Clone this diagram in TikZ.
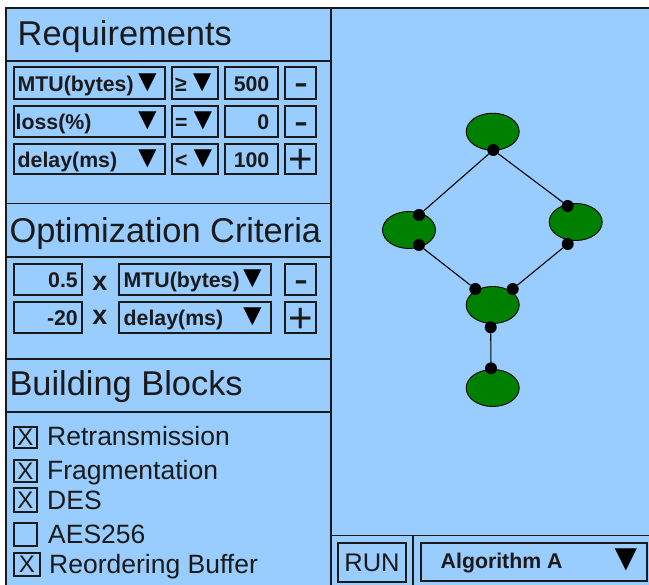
\documentclass[tikz,border=0pt]{standalone}
\usepackage{fontspec}
\setmainfont{Liberation Sans}
\definecolor{panel}{HTML}{99CCFF}
\definecolor{ink}{HTML}{1A1A1A}
\definecolor{nodegreen}{HTML}{008000}
\newcommand{\trisym}{{\fontsize{31}{35}\selectfont\mdseries\color{black}▼}}
\tikzset{
  frame/.style={draw=ink, line width=1.6pt},
  box/.style={draw=ink, line width=1.3pt, inner sep=0pt, minimum width=#1},
  hd/.style={font=\fontsize{34.4}{38}\selectfont, text=ink, inner sep=0pt, anchor=base west},
  dd/.style={font=\fontsize{21.3}{25}\selectfont\bfseries, text=ink, inner sep=0pt},
  tri/.style={font=\fontsize{31}{35}\selectfont, text=black, inner sep=0pt, anchor=base east},
  cb/.style={font=\fontsize{26.5}{30}\selectfont, text=ink, inner sep=0pt, anchor=base west},
  chk/.style={draw=ink, line width=1.3pt, inner sep=0pt, font=\fontsize{24}{28}\selectfont, text=ink},
  btn/.style={font=\fontsize{42}{46}\selectfont, text=ink, inner sep=0pt, anchor=base},
  blob/.style={ellipse, draw=black, line width=0.9pt, fill=nodegreen, minimum width=53pt, minimum height=37pt, inner sep=0pt},
  dot/.style={circle, fill=black, minimum size=12pt, inner sep=0pt},
  wire/.style={draw=black, line width=1.1pt},
}
\usetikzlibrary{shapes.geometric}
\begin{document}
\begin{tikzpicture}[x=1pt,y=-1pt]
\useasboundingbox (0,0) rectangle (649,585);
\fill[white] (0,0) rectangle (649,585);
\fill[panel] (6,8) rectangle (649,585);
% frame lines
\draw[frame] (6,586) -- (6,8) -- (650,8);
\draw[frame] (331,8) -- (331,586);
\draw[frame] (6,61) -- (331,61);
\draw[frame] (6,203.7) -- (331,203.7);
\draw[frame] (6,257) -- (331,257);
\draw[frame] (6,359) -- (331,359);
\draw[frame] (6,412) -- (331,412);
\draw[frame] (331,535.5) -- (650,535.5);
\draw[frame] (413,535.5) -- (413,586);

% headings
\node[hd] (hreq) at (17.5,45.7) {Requirements};
\node[hd] (hopt) at (9.3,242.3) {Optimization Criteria};
\node[hd] (hbb) at (9.3,395.7) {Building Blocks};

% Requirements rows
\node[box=151pt, minimum height=32pt] (r1a) at (89.5,83) {};
\node[box=46pt, minimum height=32pt] (r1b) at (195,83) {};
\node[box=53pt, minimum height=32pt] (r1c) at (251.5,83) {};
\node[box=31pt, minimum height=32pt] (r1d) at (300.5,83) {};
\node[dd, anchor=base west] (r1at) at (17.5,91.5) {MTU(bytes)};
\node[tri] (r1av) at (163,91.5) {▼};
\node[dd, anchor=base west] (r1bt) at (175,91.5) {≥\trisym};
\node[dd, anchor=base east] (r1ct) at (269.5,91.5) {500};
\node[btn] (r1dt) at (301,97) {-};

\node[box=151pt, minimum height=31pt] (r2a) at (89.5,121.5) {};
\node[box=46pt, minimum height=31pt] (r2b) at (195,121.5) {};
\node[box=53pt, minimum height=31pt] (r2c) at (251.5,121.5) {};
\node[box=31pt, minimum height=31pt] (r2d) at (300.5,121.5) {};
\node[dd, anchor=base west] (r2at) at (15.5,130) {loss(\%)};
\node[tri] (r2av) at (163,130) {▼};
\node[dd, anchor=base west] (r2bt) at (175,130) {=\trisym};
\node[dd, anchor=base east] (r2ct) at (269.5,130) {0};
\node[btn] (r2dt) at (301,135.5) {-};

\node[box=151pt, minimum height=30pt] (r3a) at (89.5,159) {};
\node[box=46pt, minimum height=30pt] (r3b) at (195,159) {};
\node[box=53pt, minimum height=30pt] (r3c) at (251.5,159) {};
\node[box=31pt, minimum height=30pt] (r3d) at (300.5,159) {};
\node[dd, anchor=base west] (r3at) at (17.5,167.5) {delay(ms)};
\node[tri] (r3av) at (163,167.5) {▼};
\node[dd, anchor=base west] (r3bt) at (175,167.5) {<\trisym};
\node[dd, anchor=base east] (r3ct) at (269.5,167.5) {100};
\node[btn] (r3dt) at (300.5,174) {+};

% Optimization rows
\node[box=68pt, minimum height=31pt] (o1a) at (48,279.5) {};
\node[box=152pt, minimum height=31pt] (o1c) at (195,279.5) {};
\node[box=31pt, minimum height=31pt] (o1d) at (300.5,279.5) {};
\node[dd, anchor=base east] (o1at) at (78,287.5) {0.5};
\node[dd, font=\fontsize{27}{30}\selectfont\bfseries, anchor=base] (o1x) at (100,290.7) {x};
\node[dd, anchor=base west] (o1ct) at (123.5,287.5) {MTU(bytes)};
\node[tri] (o1cv) at (268,287.5) {▼};
\node[btn] (o1dt) at (301,294) {-};

\node[box=68pt, minimum height=31pt] (o2a) at (48,317.5) {};
\node[box=152pt, minimum height=31pt] (o2c) at (195,317.5) {};
\node[box=31pt, minimum height=31pt] (o2d) at (300.5,317.5) {};
\node[dd, anchor=base east] (o2at) at (78,325.5) {-20};
\node[dd, font=\fontsize{27}{30}\selectfont\bfseries, anchor=base] (o2x) at (100,325) {x};
\node[dd, anchor=base west] (o2ct) at (123.5,325.5) {delay(ms)};
\node[tri] (o2cv) at (268,325.5) {▼};
\node[btn] (o2dt) at (300.5,333) {+};

% Building blocks
\node[chk, minimum width=23pt, minimum height=21pt] (c1) at (25.5,437.5) {X};
\node[cb] (c1t) at (47,445.7) {Retransmission};
\node[chk, minimum width=23pt, minimum height=22pt] (c2) at (25.5,471) {X};
\node[cb] (c2t) at (47,480) {Fragmentation};
\node[chk, minimum width=23pt, minimum height=24pt] (c3) at (25.5,500) {X};
\node[cb] (c3t) at (47,509.3) {DES};
\node[chk, minimum width=23pt, minimum height=23pt] (c4) at (25.5,534.5) {};
\node[cb] (c4t) at (48,543.3) {AES256};
\node[chk, minimum width=26pt, minimum height=23pt] (c5) at (27,564.5) {X};
\node[cb] (c5t) at (49,573.3) {Reordering Buffer};

% Run / algorithm
\node[box=68pt, minimum height=39pt] (run) at (372,562.5) {};
\node[cb, font=\fontsize{25.5}{30}\selectfont, anchor=base] (runt) at (372,571.7) {RUN};
\node[box=226pt, minimum height=38pt] (alg) at (534,562) {};
\node[dd, anchor=base west] (algt) at (440.5,568.3) {Algorithm A};
\node[tri, font=\fontsize{38}{42}\selectfont] (algv) at (645,571) {▼};

% graph
\node[blob] (e1) at (492.7,131.7) {};
\node[blob] (e2) at (409,230) {};
\node[blob] (e3) at (575.7,222) {};
\node[blob] (e4) at (492.7,305) {};
\node[blob] (e5) at (492.7,388) {};
\node[dot] (d1) at (493.3,150) {};
\node[dot] (d2a) at (419,215) {};
\node[dot] (d2b) at (419,245) {};
\node[dot] (d3a) at (567.7,206) {};
\node[dot] (d3b) at (567.7,244) {};
\node[dot] (d4a) at (475.3,289) {};
\node[dot] (d4b) at (512.7,289) {};
\node[dot] (d4c) at (490.7,327.3) {};
\node[dot] (d5) at (491,368.3) {};
\draw[wire] (d1) -- (d2a);
\draw[wire] (d1) -- (d3a);
\draw[wire] (d2b) -- (d4a);
\draw[wire] (d3b) -- (d4b);
\draw[wire] (d4c) -- (d5);
\end{tikzpicture}
\end{document}
